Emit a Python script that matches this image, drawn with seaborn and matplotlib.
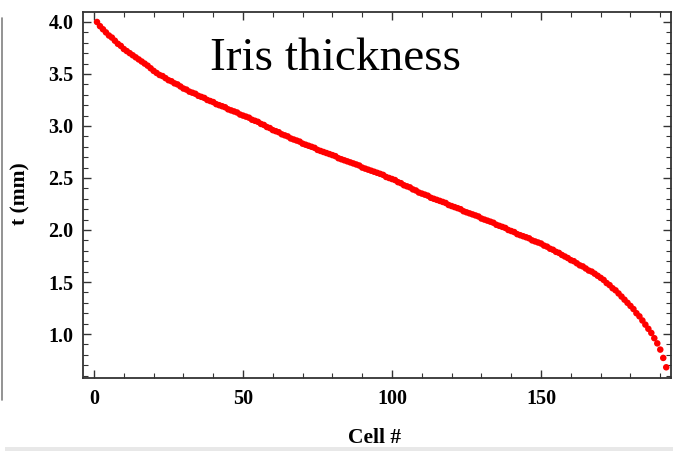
import matplotlib
matplotlib.use("Agg")
import matplotlib.pyplot as plt
from matplotlib.ticker import MultipleLocator
from matplotlib.lines import Line2D
from matplotlib.patches import Rectangle
import seaborn as sns
import pandas as pd

cells = list(range(1, 193))
thickness = [
    4.00, 3.96, 3.93, 3.90, 3.87, 3.85, 3.82, 3.79, 3.77, 3.74,
    3.72, 3.70, 3.68, 3.66, 3.64, 3.62, 3.60, 3.58, 3.555, 3.53,
    3.51, 3.49, 3.48, 3.46, 3.44, 3.43, 3.41, 3.40, 3.38, 3.36,
    3.35, 3.33, 3.32, 3.31, 3.29, 3.28, 3.27, 3.25, 3.24, 3.23,
    3.21, 3.20, 3.19, 3.18, 3.16, 3.15, 3.14, 3.13, 3.11, 3.10,
    3.09, 3.08, 3.06, 3.05, 3.04, 3.02, 3.01, 2.99, 2.98, 2.96,
    2.95, 2.94, 2.92, 2.91, 2.90, 2.88, 2.87, 2.86, 2.85, 2.83,
    2.82, 2.81, 2.80, 2.79, 2.77, 2.76, 2.75, 2.74, 2.73, 2.72,
    2.71, 2.69, 2.68, 2.67, 2.66, 2.65, 2.64, 2.63, 2.62, 2.60,
    2.59, 2.58, 2.57, 2.56, 2.55, 2.54, 2.53, 2.51, 2.50, 2.49,
    2.48, 2.46, 2.45, 2.43, 2.42, 2.41, 2.39, 2.38, 2.36, 2.35,
    2.34, 2.33, 2.31, 2.30, 2.29, 2.28, 2.27, 2.26, 2.24, 2.23,
    2.22, 2.21, 2.20, 2.18, 2.17, 2.16, 2.15, 2.14, 2.13, 2.11,
    2.10, 2.09, 2.08, 2.07, 2.05, 2.04, 2.03, 2.02, 2.00, 1.99,
    1.98, 1.96, 1.95, 1.94, 1.93, 1.92, 1.90, 1.89, 1.88, 1.87,
    1.85, 1.84, 1.82, 1.81, 1.79, 1.78, 1.76, 1.745, 1.73, 1.71,
    1.70, 1.68, 1.66, 1.65, 1.63, 1.61, 1.60, 1.58, 1.56, 1.54,
    1.52, 1.49, 1.47, 1.44, 1.42, 1.39, 1.36, 1.33, 1.30, 1.27,
    1.24, 1.20, 1.17, 1.13, 1.09, 1.05, 1.01, 0.96, 0.91, 0.85,
    0.77, 0.68,
]
x_ticks = [0, 50, 100, 150]
y_ticks = [1.0, 1.5, 2.0, 2.5, 3.0, 3.5, 4.0]
title_text = "Iris thickness"
x_label = "Cell #"
y_label = "t (mm)"

df = pd.DataFrame({"cell": cells, "t": thickness})

sns.set_style("ticks")
plt.rcParams["font.family"] = ["Liberation Serif", "DejaVu Serif"]
plt.rcParams["text.color"] = "black"

W, H = 673, 451
fig = plt.figure(figsize=(W / 100, H / 100), dpi=100)
ax = fig.add_axes([83 / W, 1 - 378 / H, (671 - 83) / W, (378 - 12) / H])

sns.scatterplot(data=df, x="cell", y="t", ax=ax, color="#ff0000",
                s=22, linewidth=0, edgecolor="none", legend=False)

ax.set_xlim(-3.7, 193.6)
ax.set_ylim(0.577, 4.096)
ax.set_xticks(x_ticks)
ax.set_xticklabels([str(v) for v in x_ticks])
ax.set_yticks(y_ticks)
ax.set_yticklabels([f"{v:.1f}" for v in y_ticks])
ax.xaxis.set_minor_locator(MultipleLocator(10))
ax.yaxis.set_minor_locator(MultipleLocator(0.1))

ax.tick_params(which="both", direction="in", top=True, right=True,
               colors="#333333", labelcolor="black")
ax.tick_params(which="major", length=5.5, width=1.0, labelsize=14.5)
ax.tick_params(which="minor", length=3.5, width=0.8)
ax.tick_params(axis="x", which="major", pad=8)
ax.tick_params(axis="y", which="major", pad=7)
for lab in ax.get_xticklabels() + ax.get_yticklabels():
    lab.set_fontweight("bold")
for sp in ax.spines.values():
    sp.set_visible(True)
    sp.set_linewidth(1.3)
    sp.set_color("#333333")

ax.set_xlabel("")
ax.set_ylabel("")
fig.text(375 / W, 1 - 438 / H, x_label, ha="center", va="center",
         fontsize=15.5, fontweight="bold", color="black")
fig.text(20 / W, 1 - 194 / H, y_label, ha="center", va="center",
         rotation=90, fontsize=15.5, fontweight="bold", color="black")

ax.text((210 - 83) / (671 - 83), (378 - 70) / (378 - 12), title_text,
        transform=ax.transAxes, ha="left", va="baseline", fontsize=34,
        color="black")

# slide artifacts: left grey rule and bottom light band
fig.add_artist(Line2D([1.5 / W, 1.5 / W], [1 - 400 / H, 1 - 18 / H],
                      transform=fig.transFigure, color="#808080", lw=1.2))
fig.add_artist(Rectangle((5 / W, 0), 1, 4 / H, transform=fig.transFigure,
                         color="#e8e8e8", lw=0))

fig.savefig("out.png", dpi=100)
